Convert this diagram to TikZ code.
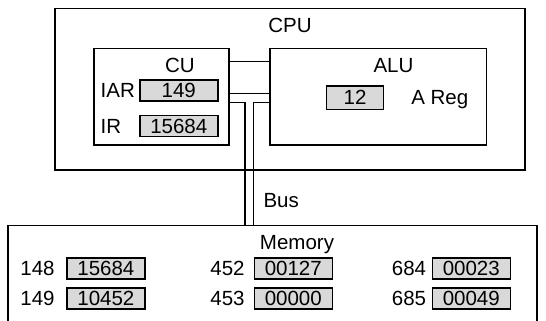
\documentclass[tikz,border=0pt]{standalone}
\usepackage{fontspec}
\setmainfont{Liberation Sans}
\usetikzlibrary{positioning}

\begin{document}
\begin{tikzpicture}[x=1pt, y=-1pt,
  box/.style={draw, line width=1.2pt, inner sep=0pt},
  reg/.style={draw, line width=1.5pt, fill=gray!30, minimum width=78pt, minimum height=21pt, inner sep=0pt, text height=14.5pt, text depth=0pt, font=\fontsize{20.5}{24}\selectfont},
  lbl/.style={font=\fontsize{20.5}{24}\selectfont, inner sep=0pt, text height=14.5pt, text depth=0pt},
  wire/.style={line width=1.2pt},
]
\useasboundingbox (0,0) rectangle (546,321);
\clip (0,0) rectangle (546,321);

% === CPU with CU and ALU ===
\node[box, minimum width=470pt, minimum height=161.7pt] (cpu) at (290,89.2) {};
\node[lbl] (cpulbl) at (290,25) {CPU};

\node[box, minimum width=135pt, minimum height=96.7pt] (cu) at (161.5,96.65) {};
\node[lbl] (culbl) at (180,65) {CU};
\node[reg] (iar) at (178.8,90.3) {149};
\node[reg] (ir) at (178.8,125.8) {15684};
\node[lbl, left=4pt of iar] (iarlbl) {IAR};
\node[lbl, anchor=west] (irlbl) at (iarlbl.west |- ir) {IR};

\node[box, minimum width=216.7pt, minimum height=96.7pt] (alu) at (378.35,96.65) {};
\node[lbl] (alulbl) at (393.5,65) {ALU};
\node[reg, minimum width=56.6pt, minimum height=23.3pt] (areg) at (355,97.7) {12};
\node[lbl, right=27pt of areg] (areglbl) {A Reg};

% === Bus ===
\coordinate (busl) at (245,225.7);
\coordinate (busr) at (253.3,225.7);
\draw[wire] ([yshift=-14pt]cu.north east) -- ([yshift=-14pt]alu.north west);
\draw[wire] ([yshift=-45.4pt]cu.north east) -- ([yshift=-45.4pt]alu.north west);
\draw[wire] ([yshift=-54.4pt]cu.north east) -| (busl);
\draw[wire] ([yshift=-54.4pt]alu.north west) -| (busr);
\node[lbl, anchor=west] (buslbl) at (263.3,200.7) {Bus};

% === Memory ===
\node[box, minimum width=529pt, minimum height=114.3pt] (mem) at (272.5,282.85) {};
\node[lbl] (memlbl) at (297,242.7) {Memory};

\node[reg] (m148) at (105.9,268.5) {15684};
\node[reg] (m149) at (105.9,298.3) {10452};
\node[reg] (m452) at (293.3,268.5) {00127};
\node[reg] (m453) at (293.3,298.3) {00000};
\node[reg] (m684) at (471.3,268.5) {00023};
\node[reg] (m685) at (471.3,298.3) {00049};

\node[lbl] (a148) at (37.5,268.5) {148};
\node[lbl] (a149) at (37.5,298.3) {149};
\node[lbl] (a452) at (227.5,268.5) {452};
\node[lbl] (a453) at (227.5,298.3) {453};
\node[lbl] (a684) at (409,268.5) {684};
\node[lbl] (a685) at (409,298.3) {685};

\end{tikzpicture}
\end{document}
